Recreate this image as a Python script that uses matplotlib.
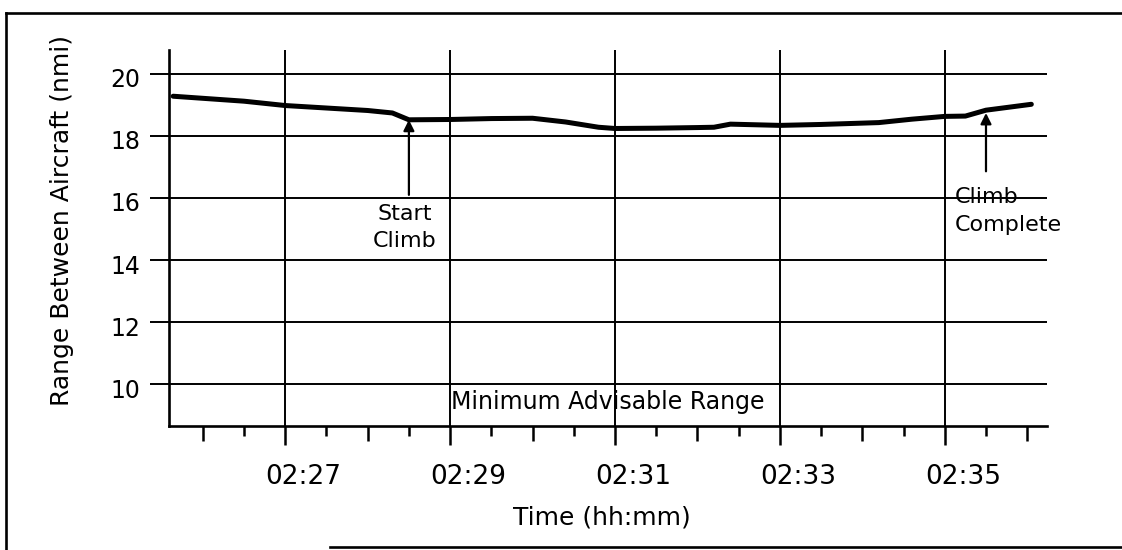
import numpy as np
import matplotlib
matplotlib.use("Agg")
from matplotlib import pyplot as plt
from matplotlib.lines import Line2D
from matplotlib.transforms import ScaledTranslation

# minutes after 02:00 and range between aircraft (nmi)
timeMin = [25.64, 26.5, 27.0, 27.5, 28.0, 28.3, 28.5, 29.0, 29.5, 30.0, 30.4,
           30.8, 31.0, 31.5, 32.0, 32.2, 32.4, 33.0, 33.5, 34.2, 34.6, 35.0,
           35.25, 35.5, 36.05]
rangeNmi = [19.28, 19.12, 18.98, 18.90, 18.82, 18.74, 18.52, 18.53, 18.56,
            18.57, 18.45, 18.28, 18.24, 18.25, 18.27, 18.28, 18.38, 18.34,
            18.37, 18.43, 18.54, 18.63, 18.64, 18.83, 19.02]

xMajor = [27, 29, 31, 33, 35]
xLabels = ["02:%02d" % m for m in xMajor]
yTicks = [10, 12, 14, 16, 18, 20]

startClimb = (28.5, 18.52)
climbComplete = (35.5, 18.74)

W, H = 1122, 550
plt.rcParams['font.family'] = ['DejaVu Sans']
fig = plt.figure(figsize=(W / 100, H / 100), dpi=100)
fig.patch.set_facecolor('white')

ax = fig.add_axes([169 / W, 124 / H, (1047 - 169) / W, (426 - 50) / H])
ax.plot(timeMin, rangeNmi, color='black', lw=3.6, solid_capstyle='round',
        zorder=3)

ax.set_xlim(25.59, 36.24)
ax.set_ylim(8.65, 20.77)

ax.set_xticks(xMajor)
ax.set_xticklabels(xLabels, fontsize=19)
minorLocs = [m for m in np.arange(26.0, 36.01, 0.5) if m not in xMajor]
ax.set_xticks(minorLocs, minor=True)
ax.set_yticks(yTicks)
ax.set_yticklabels([str(v) for v in yTicks], fontsize=17)

ax.grid(True, which='major', color='black', lw=1.4)
for s in ['top', 'right']:
    ax.spines[s].set_visible(False)
for s in ['left', 'bottom']:
    ax.spines[s].set_linewidth(1.9)

ax.tick_params(axis='x', which='major', direction='out', length=13.7,
               width=1.8, pad=14)
ax.tick_params(axis='x', which='minor', direction='out', length=7.2,
               width=1.8)
ax.tick_params(axis='y', direction='out', length=13.7, width=1.4, pad=7)

# whole minutes get a medium tick
for tick, loc in zip(ax.xaxis.get_minor_ticks(), minorLocs):
    if loc % 1 == 0:
        tick.tick1line.set_markersize(10.8)

for lab in ax.get_xticklabels():
    lab.set_transform(lab.get_transform() +
                      ScaledTranslation(0.18, 0, fig.dpi_scale_trans))
for lab in ax.get_yticklabels():
    lab.set_transform(lab.get_transform() +
                      ScaledTranslation(0, -0.04, fig.dpi_scale_trans))

fig.text(62 / W, 1 - 220 / H, "Range Between Aircraft (nmi)", rotation=90,
         ha='center', va='center', fontsize=18)
fig.text(602 / W, 1 - 518 / H, "Time (hh:mm)", ha='center', va='center',
         fontsize=18)

arrow = dict(arrowstyle='-|>', color='black', lw=1.6, mutation_scale=16,
             shrinkA=0, shrinkB=0)
ax.annotate('', xy=startClimb, xytext=(28.5, 16.1), arrowprops=arrow)
ax.text(28.45, 15.8, "Start\nClimb", ha='center', va='top', fontsize=16,
        linespacing=1.45)
ax.annotate('', xy=climbComplete, xytext=(35.5, 16.86), arrowprops=arrow)
ax.text(35.12, 16.34, "Climb\nComplete", ha='left', va='top', fontsize=16,
        linespacing=1.45)
ax.text(30.91, 9.82, "Minimum Advisable Range", ha='center', va='top',
        fontsize=17)

# page frame of the scanned figure
frame = [([6, 6], [13, 549]), ([6, 1122], [13, 13]), ([330, 1122], [547, 547])]
for xs, ys in frame:
    fig.add_artist(Line2D([x / W for x in xs], [1 - y / H for y in ys],
                          transform=fig.transFigure, color='black', lw=1.9))

fig.savefig("out.png", dpi=100)
